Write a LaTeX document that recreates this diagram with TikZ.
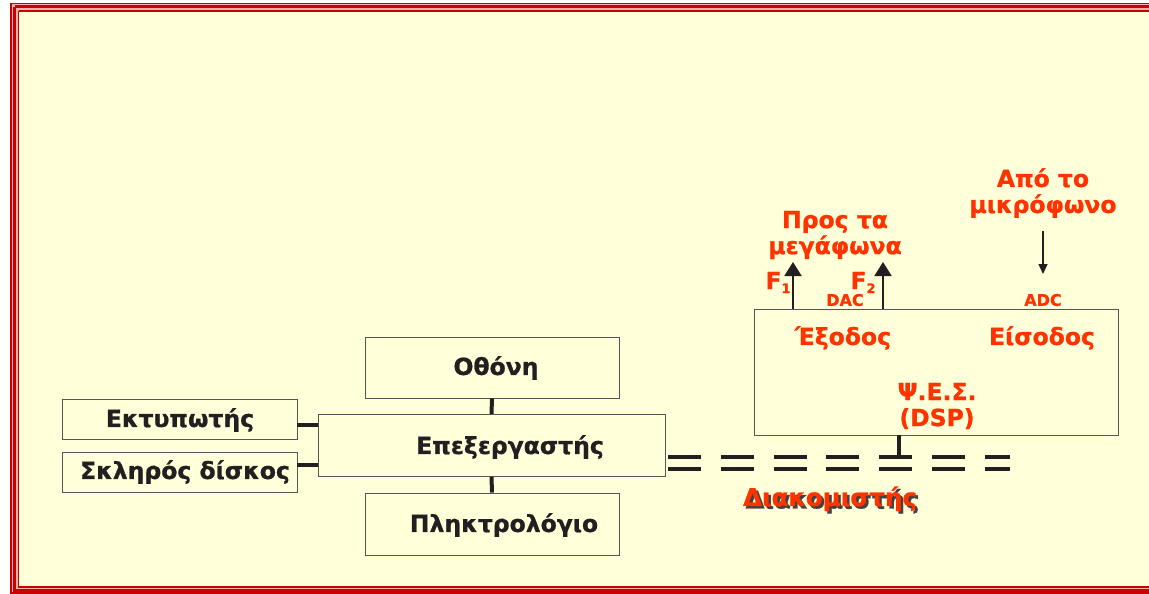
\documentclass[tikz,border=0pt]{standalone}
\usepackage{fontspec}
\setmainfont{DejaVu Sans}
\newfontfamily\heavy[FakeBold=0.9]{DejaVu Sans Bold}
\usetikzlibrary{arrows.meta,calc}
\definecolor{bgy}{HTML}{FFFFD9}
\definecolor{frm}{HTML}{CC0000}
\definecolor{frmlt}{HTML}{F6B0B0}
\definecolor{ora}{HTML}{FF3300}
\definecolor{ink}{HTML}{231F20}
\definecolor{edge}{HTML}{555555}
\begin{document}
\begin{tikzpicture}[x=1pt,y=-1pt,
  box/.style={draw=edge, line width=0.9pt, fill=bgy, inner sep=0pt},
  blk/.style={text=ink, font=\heavy\fontsize{23.5}{26}\selectfont, inner sep=0pt},
  redtxt/.style={text=ora, font=\heavy\fontsize{23.5}{26}\selectfont, align=center, inner sep=0pt},
  smallred/.style={text=ora, font=\heavy\fontsize{16}{18}\selectfont, inner sep=0pt},
  link/.style={line width=4pt, draw=ink},
  bus/.style={line width=4pt, draw=ink, dash pattern=on 33pt off 19.8pt},
  uparr/.style={line width=1.8pt, draw=ink, -{Triangle[length=14pt,width=17pt]}},
  downarr/.style={line width=1.4pt, draw=ink, -{Triangle[length=10pt,width=9pt]}}]
\useasboundingbox (0,0) rectangle (1149,594);
% frame
\fill[white] (0,0) rectangle (1149,594);
\fill[frmlt] (11,3.5) rectangle (1160,593);
\fill[bgy] (18.5,11) rectangle (1160,587);
\draw[frm, line width=1.3pt] (11,3.5) -- (1160,3.5) (11,3.5) -- (11,593) -- (1160,593);
\draw[frm, line width=3pt] (14.5,7) -- (1160,7) (14.5,7) -- (14.5,590) -- (1160,590);
\draw[frm, line width=1.3pt] (18.5,11) -- (1160,11) (18.5,11) -- (18.5,587) -- (1160,587);

% boxes
\node[box, minimum width=254pt, minimum height=61pt] (othoni) at (492,367.5) {};
\node[box, minimum width=347pt, minimum height=62pt] (cpu) at (491.5,445.5) {};
\node[box, minimum width=254pt, minimum height=62pt] (kbd) at (492,524) {};
\node[box, minimum width=235pt, minimum height=40pt] (printer) at (179.5,419.5) {};
\node[box, minimum width=235pt, minimum height=40pt] (disk) at (179.5,472) {};
\node[box, minimum width=364pt, minimum height=126pt] (dsp) at (936,372) {};

% box labels
\node[blk] (tothoni) at (496,368) {Οθόνη};
\node[blk] (tcpu) at (510,447) {Επεξεργαστής};
\node[blk] (tkbd) at (504,525) {Πληκτρολόγιο};
\node[blk] (tprinter) at (180,420) {Εκτυπωτής};
\node[blk] (tdisk) at (185,472) {Σκληρός δίσκος};

% connectors
\draw[link] (othoni.south) -- (cpu.north);
\draw[link] (cpu.south) -- (kbd.north);
\coordinate (pA) at ($(printer.east)+(0,5.5)$);
\coordinate (pB) at ($(disk.east)+(0,-7)$);
\draw[link] (pA) -- (pA -| cpu.west);
\draw[link] (pB) -- (pB -| cpu.west);

% bus
\coordinate (busA1) at (668,457);
\coordinate (busB1) at (1010,457);
\coordinate (busA2) at (668,469);
\coordinate (busB2) at (1010,469);
\draw[bus] (busA1) -- (busB1);
\draw[bus] (busA2) -- (busB2);
\coordinate (dspJ) at (899,457);
\draw[link] (dspJ |- dsp.south) -- (dspJ);

% arrows
\coordinate (f1tip) at (793,262);
\coordinate (f2tip) at (883,262);
\coordinate (mictop) at (1043,231);
\coordinate (micend) at (1043,274);
\draw[uparr] (f1tip |- dsp.north) -- (f1tip);
\draw[uparr] (f2tip |- dsp.north) -- (f2tip);
\draw[downarr] (mictop) -- (micend);

% red labels
\node[redtxt] (tspk) at (835,235) {Προς τα\\μεγάφωνα};
\node[redtxt] (tmic) at (1043,193) {Από το\\μικρόφωνο};
\node[redtxt, anchor=base] (tf1) at (778,289) {F\raisebox{-4pt}{\fontsize{13}{13}\selectfont 1}};
\node[redtxt, anchor=base] (tf2) at (863,289) {F\raisebox{-4pt}{\fontsize{13}{13}\selectfont 2}};
\node[smallred] (tdac) at (845,300) {DAC};
\node[smallred] (tadc) at (1043,300) {ADC};
\node[redtxt] (tout) at (843,338) {Έξοδος};
\node[redtxt] (tin) at (1042,338) {Είσοδος};
\node[redtxt] (tpses) at (937,406) {Ψ.Ε.Σ.\\(DSP)};
\node[redtxt, font=\heavy\fontsize{24.5}{26}\selectfont] (tbus) at (830,500)
  {\makebox[0pt][l]{\hspace{2.5pt}\raisebox{-2.5pt}{\textcolor{ink!85}{Διακομιστής}}}Διακομιστής};
\end{tikzpicture}
\end{document}
